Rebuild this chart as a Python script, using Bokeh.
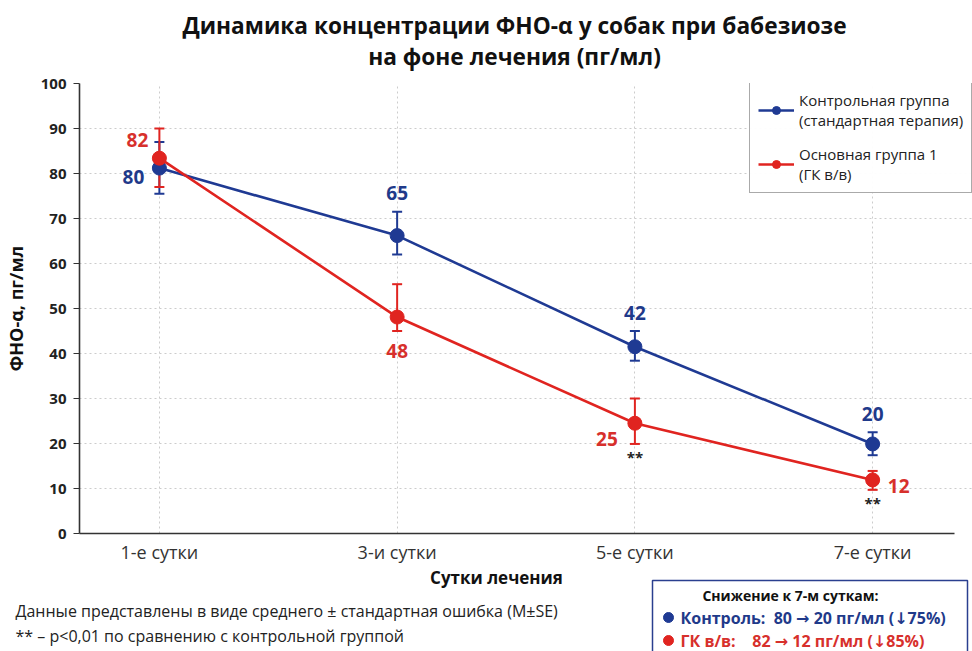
from bokeh.plotting import figure
from bokeh.layouts import column
from bokeh.models import (ColumnDataSource, Whisker, TeeHead, LabelSet, Label,
                          Legend, LegendItem, FixedTicker, Range1d)
from bokeh.core.properties import value
from bokeh.embed import file_html
from bokeh.resources import INLINE

# ---------------- data ----------------
days = [0, 1, 2, 3]
day_labels = ["1-е сутки", "3-и сутки", "5-е сутки", "7-е сутки"]

ctrl_mean = [81.2, 66.2, 41.5, 19.9]
ctrl_lo = [75.5, 62.0, 38.4, 17.4]
ctrl_hi = [87.0, 71.5, 45.0, 22.5]
ctrl_text = ["80", "65", "42", "20"]

gk_mean = [83.4, 48.1, 24.5, 11.9]
gk_lo = [77.0, 45.0, 19.9, 9.7]
gk_hi = [90.0, 55.4, 30.0, 13.9]
gk_text = ["82", "48", "25", "12"]
gk_sig = ["", "", "**", "**"]

y_ticks = [0, 10, 20, 30, 40, 50, 60, 70, 80, 90, 100]

# label offsets (style)
ctrl_dx = [-26, 0, 0, 0]
ctrl_dy = [-9, 43, 34, 30]
gk_dx = [-22, 0, -28, 26]
gk_dy = [18, -34, -16, -6]

BLUE = "#1f3a93"
RED = "#e02420"
BLUE_T = "#1f3a8a"
RED_T = "#d7302c"
FONT = "Open Sans"
FONT_ARROW = "Open Sans, DejaVu Sans"
NB = "\u00a0"
W = 972
TOP_H = 74


def blank(height):
    f = figure(width=W, height=height, x_range=Range1d(0, W), y_range=Range1d(height, 0),
               min_border=0, min_border_left=0, min_border_right=0,
               min_border_top=0, min_border_bottom=0,
               x_axis_location=None, y_axis_location=None,
               toolbar_location=None, output_backend="svg", frame_align=False)
    f.grid.visible = False
    f.outline_line_color = None
    return f


# ---------------- title ----------------
top = blank(TOP_H)
top.add_layout(Label(x=514, y=25, text="Динамика концентрации ФНО-α у собак при бабезиозе",
                     text_align="center", text_baseline="middle",
                     text_font=FONT, text_font_size="22.7px", text_font_style="bold",
                     text_color="#111111"))
top.add_layout(Label(x=514, y=56, text="на фоне лечения (пг/мл)",
                     text_align="center", text_baseline="middle",
                     text_font=FONT, text_font_size="22.7px", text_font_style="bold",
                     text_color="#111111"))

# ---------------- main chart ----------------
ctrl = ColumnDataSource(dict(x=days, y=ctrl_mean, lo=ctrl_lo, hi=ctrl_hi,
                             t=ctrl_text, dx=ctrl_dx, dy=ctrl_dy))
gk = ColumnDataSource(dict(x=days, y=gk_mean, lo=gk_lo, hi=gk_hi,
                           t=gk_text, dx=gk_dx, dy=gk_dy, s=gk_sig))

X0, X1, XB = -0.336, 3.42, 3.345
p = figure(width=W, height=566 - TOP_H, x_range=(X0, X1), y_range=(0, 100),
           output_backend="svg", toolbar_location=None, frame_align=False,
           min_border_left=78, min_border_right=0,
           min_border_top=83 - TOP_H, min_border_bottom=30)
p.outline_line_color = None

p.xaxis.ticker = FixedTicker(ticks=days)
p.xaxis.major_label_overrides = {d: lab for d, lab in zip(days, day_labels)}
p.xaxis.bounds = (X0, XB)
p.yaxis.ticker = FixedTicker(ticks=y_ticks)
for ax in (p.xaxis[0], p.yaxis[0]):
    ax.axis_line_color = "#333333"
    ax.axis_line_width = 1.6
    ax.minor_tick_line_color = None
    ax.major_tick_in = 0
p.xaxis.major_tick_out = 0
p.yaxis.major_tick_out = 6
p.yaxis.major_tick_line_color = "#333333"
p.xaxis.major_label_text_font = FONT
p.xaxis.major_label_text_font_size = "18px"
p.xaxis.major_label_text_color = "#333333"
p.xaxis.major_label_standoff = 6
p.yaxis.major_label_text_font = FONT
p.yaxis.major_label_text_font_size = "15px"
p.yaxis.major_label_text_font_style = "bold"
p.yaxis.major_label_text_color = "#222222"
p.yaxis.major_label_standoff = 7
p.yaxis.axis_label = "ФНО-α, пг/мл"
p.yaxis.axis_label_text_font = FONT
p.yaxis.axis_label_text_font_size = "18px"
p.yaxis.axis_label_text_font_style = "bold"
p.yaxis.axis_label_text_color = "#111111"
p.yaxis.axis_label_standoff = 10

p.xgrid.ticker = FixedTicker(ticks=days)
p.ygrid.ticker = FixedTicker(ticks=y_ticks)
for g in (p.xgrid[0], p.ygrid[0]):
    g.grid_line_color = "#cccccc"
    g.grid_line_dash = "2 3"
    g.grid_line_width = 1

for src, col in ((ctrl, BLUE), (gk, RED)):
    p.add_layout(Whisker(source=src, base="x", lower="lo", upper="hi",
                         line_color=col, line_width=2,
                         upper_head=TeeHead(size=10, line_color=col, line_width=2),
                         lower_head=TeeHead(size=10, line_color=col, line_width=2)))

l1 = p.line("x", "y", source=ctrl, line_color=BLUE, line_width=2.6)
s1 = p.scatter("x", "y", source=ctrl, size=14, fill_color=BLUE, line_color=BLUE)
l2 = p.line("x", "y", source=gk, line_color=RED, line_width=2.6)
s2 = p.scatter("x", "y", source=gk, size=14, fill_color=RED, line_color=RED)

for src, col in ((ctrl, BLUE_T), (gk, RED_T)):
    p.add_layout(LabelSet(source=src, x="x", y="y", text="t", x_offset="dx", y_offset="dy",
                          text_align="center", text_baseline="middle",
                          text_font=value(FONT), text_font_size="19px",
                          text_font_style="bold", text_color=col))
p.add_layout(LabelSet(source=gk, x="x", y="lo", text="s", y_offset=-13,
                      text_align="center", text_baseline="middle",
                      text_font=value(FONT), text_font_size="15px",
                      text_font_style="bold", text_color="#222222"))

legend = Legend(items=[
    LegendItem(label="Контрольная группа\n(стандартная терапия)", renderers=[l1, s1]),
    LegendItem(label="Основная группа 1\n(ГК в/в)", renderers=[l2, s2]),
], location=(670, 340))
legend.label_text_font = FONT
legend.label_text_font_size = "15px"
legend.label_text_line_height = 1.15
legend.label_text_color = "#222222"
legend.border_line_color = "#555555"
legend.border_line_width = 1.5
legend.glyph_width = 36
legend.spacing = 14
legend.padding = 8
legend.margin = 0
legend.background_fill_color = "white"
p.add_layout(legend)

# ---------------- bottom notes ----------------
bot = blank(85)
bot.add_layout(Label(x=496, y=11, text="Сутки лечения",
                     text_align="center", text_baseline="middle",
                     text_font=FONT, text_font_size="17px", text_font_style="bold",
                     text_color="#111111"))
bot.add_layout(Label(x=15, y=44,
                     text="Данные представлены в виде среднего ± стандартная ошибка (M±SE)",
                     text_align="left", text_baseline="middle",
                     text_font=FONT, text_font_size="16px", text_color="#222222"))
bot.add_layout(Label(x=15, y=69, text="** – p<0,01 по сравнению с контрольной группой",
                     text_align="left", text_baseline="middle",
                     text_font=FONT, text_font_size="16px", text_color="#222222"))
bot.quad(left=[652], right=[967], top=[14], bottom=[110], fill_color="white",
         line_color="#2a3f8f", line_width=1.5)
bot.add_layout(Label(x=790, y=29, text="Снижение к 7-м суткам:",
                     text_align="center", text_baseline="middle",
                     text_font=FONT, text_font_size="14px", text_font_style="bold",
                     text_color="#111111"))
bot.scatter(x=[668, 668], y=[51, 74], size=10, fill_color=[BLUE, RED], line_color=[BLUE, RED])
bot.add_layout(Label(x=680, y=51, text=f"Контроль:{NB} 80 → 20 пг/мл (↓75%)",
                     text_align="left", text_baseline="middle",
                     text_font=FONT_ARROW, text_font_size="16px", text_font_style="bold",
                     text_color=BLUE_T))
bot.add_layout(Label(x=680, y=74, text=f"ГК в/в:{NB}{NB}{NB} 82 → 12 пг/мл (↓85%)",
                     text_align="left", text_baseline="middle",
                     text_font=FONT_ARROW, text_font_size="16px", text_font_style="bold",
                     text_color=RED_T))

layout = column(top, p, bot, spacing=0)
open("out.html", "w").write(file_html(layout, INLINE))
